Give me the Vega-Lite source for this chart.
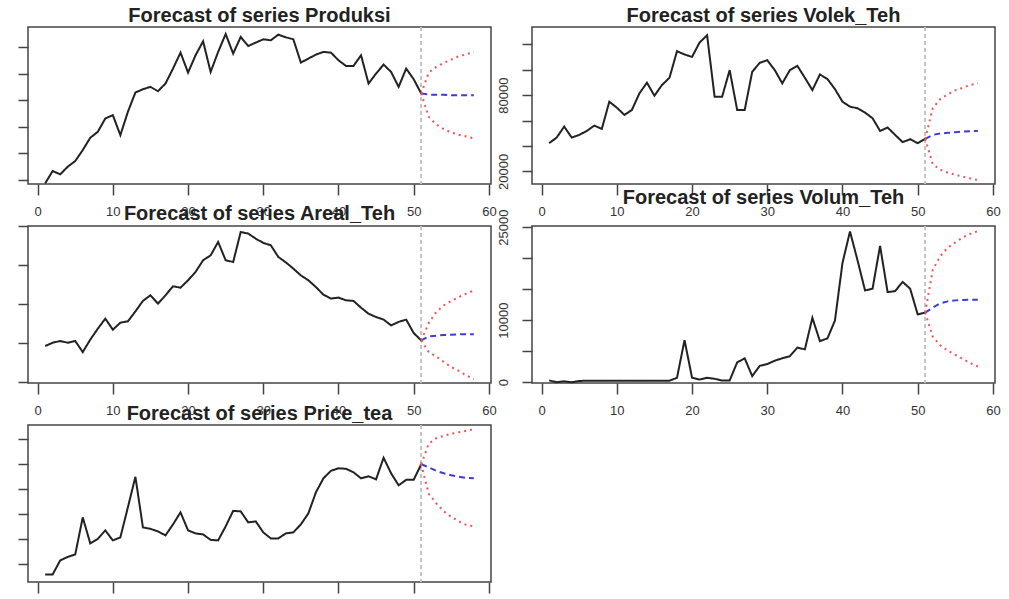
{
  "$schema": "https://vega.github.io/schema/vega-lite/v6.json",
  "background": "white",
  "padding": {"left": 16, "top": 4, "right": 0, "bottom": 0},
  "bounds": "flush",
  "columns": 2,
  "spacing": {"row": 42, "column": 41},
  "datasets": {
    "Produksi": [
      {"t":1,"value":57500,"type":"actual"},{"t":2,"value":66750,"type":"actual"},{"t":3,"value":64250,"type":"actual"},{"t":4,"value":70000,"type":"actual"},{"t":5,"value":74250,"type":"actual"},{"t":6,"value":82500,"type":"actual"},{"t":7,"value":91750,"type":"actual"},{"t":8,"value":96250,"type":"actual"},{"t":9,"value":106250,"type":"actual"},{"t":10,"value":108750,"type":"actual"},
      {"t":11,"value":93750,"type":"actual"},{"t":12,"value":111250,"type":"actual"},{"t":13,"value":125750,"type":"actual"},{"t":14,"value":128250,"type":"actual"},{"t":15,"value":130000,"type":"actual"},{"t":16,"value":126750,"type":"actual"},{"t":17,"value":132500,"type":"actual"},{"t":18,"value":143750,"type":"actual"},{"t":19,"value":155750,"type":"actual"},{"t":20,"value":140750,"type":"actual"},
      {"t":21,"value":153750,"type":"actual"},{"t":22,"value":164250,"type":"actual"},{"t":23,"value":141250,"type":"actual"},{"t":24,"value":156250,"type":"actual"},{"t":25,"value":169750,"type":"actual"},{"t":26,"value":155000,"type":"actual"},{"t":27,"value":167500,"type":"actual"},{"t":28,"value":160750,"type":"actual"},{"t":29,"value":163250,"type":"actual"},{"t":30,"value":165750,"type":"actual"},
      {"t":31,"value":165000,"type":"actual"},{"t":32,"value":169250,"type":"actual"},{"t":33,"value":167250,"type":"actual"},{"t":34,"value":165750,"type":"actual"},{"t":35,"value":148250,"type":"actual"},{"t":36,"value":151250,"type":"actual"},{"t":37,"value":154250,"type":"actual"},{"t":38,"value":156250,"type":"actual"},{"t":39,"value":155750,"type":"actual"},{"t":40,"value":150000,"type":"actual"},
      {"t":41,"value":145750,"type":"actual"},{"t":42,"value":145750,"type":"actual"},{"t":43,"value":153750,"type":"actual"},{"t":44,"value":132500,"type":"actual"},{"t":45,"value":140000,"type":"actual"},{"t":46,"value":146750,"type":"actual"},{"t":47,"value":141250,"type":"actual"},{"t":48,"value":130000,"type":"actual"},{"t":49,"value":143750,"type":"actual"},{"t":50,"value":135750,"type":"actual"},{"t":51,"value":125000,"type":"actual"},
      {"t":51,"value":125000,"type":"forecast"},{"t":52,"value":124250,"type":"forecast"},{"t":53,"value":124000,"type":"forecast"},{"t":54,"value":124000,"type":"forecast"},{"t":55,"value":123750,"type":"forecast"},{"t":56,"value":123750,"type":"forecast"},{"t":57,"value":123750,"type":"forecast"},{"t":58,"value":123750,"type":"forecast"},
      {"t":51,"value":125000,"type":"upper"},{"t":52,"value":140750,"type":"upper"},{"t":53,"value":145000,"type":"upper"},{"t":54,"value":148000,"type":"upper"},{"t":55,"value":150500,"type":"upper"},{"t":56,"value":153000,"type":"upper"},{"t":57,"value":154500,"type":"upper"},{"t":58,"value":156250,"type":"upper"},
      {"t":51,"value":125000,"type":"lower"},{"t":52,"value":107500,"type":"lower"},{"t":53,"value":101750,"type":"lower"},{"t":54,"value":98250,"type":"lower"},{"t":55,"value":95750,"type":"lower"},{"t":56,"value":94000,"type":"lower"},{"t":57,"value":92750,"type":"lower"},{"t":58,"value":91250,"type":"lower"}
    ],
    "Volek_Teh": [
      {"t":1,"value":42200,"type":"actual"},{"t":2,"value":46600,"type":"actual"},{"t":3,"value":55200,"type":"actual"},{"t":4,"value":46600,"type":"actual"},{"t":5,"value":48700,"type":"actual"},{"t":6,"value":51800,"type":"actual"},{"t":7,"value":56000,"type":"actual"},{"t":8,"value":53400,"type":"actual"},{"t":9,"value":74800,"type":"actual"},{"t":10,"value":70100,"type":"actual"},
      {"t":11,"value":64400,"type":"actual"},{"t":12,"value":68300,"type":"actual"},{"t":13,"value":81300,"type":"actual"},{"t":14,"value":89700,"type":"actual"},{"t":15,"value":79500,"type":"actual"},{"t":16,"value":87900,"type":"actual"},{"t":17,"value":93600,"type":"actual"},{"t":18,"value":114500,"type":"actual"},{"t":19,"value":111900,"type":"actual"},{"t":20,"value":110000,"type":"actual"},
      {"t":21,"value":121300,"type":"actual"},{"t":22,"value":127000,"type":"actual"},{"t":23,"value":78700,"type":"actual"},{"t":24,"value":78700,"type":"actual"},{"t":25,"value":99600,"type":"actual"},{"t":26,"value":68300,"type":"actual"},{"t":27,"value":68300,"type":"actual"},{"t":28,"value":98300,"type":"actual"},{"t":29,"value":105300,"type":"actual"},{"t":30,"value":107400,"type":"actual"},
      {"t":31,"value":99600,"type":"actual"},{"t":32,"value":89200,"type":"actual"},{"t":33,"value":99600,"type":"actual"},{"t":34,"value":103000,"type":"actual"},{"t":35,"value":93600,"type":"actual"},{"t":36,"value":83900,"type":"actual"},{"t":37,"value":96200,"type":"actual"},{"t":38,"value":92600,"type":"actual"},{"t":39,"value":84700,"type":"actual"},{"t":40,"value":74800,"type":"actual"},
      {"t":41,"value":70900,"type":"actual"},{"t":42,"value":69600,"type":"actual"},{"t":43,"value":66200,"type":"actual"},{"t":44,"value":61800,"type":"actual"},{"t":45,"value":51800,"type":"actual"},{"t":46,"value":54500,"type":"actual"},{"t":47,"value":48700,"type":"actual"},{"t":48,"value":43000,"type":"actual"},{"t":49,"value":45300,"type":"actual"},{"t":50,"value":42200,"type":"actual"},{"t":51,"value":45600,"type":"actual"},
      {"t":51,"value":45600,"type":"forecast"},{"t":52,"value":48700,"type":"forecast"},{"t":53,"value":49800,"type":"forecast"},{"t":54,"value":50300,"type":"forecast"},{"t":55,"value":50800,"type":"forecast"},{"t":56,"value":51300,"type":"forecast"},{"t":57,"value":51600,"type":"forecast"},{"t":58,"value":51800,"type":"forecast"},
      {"t":51,"value":45600,"type":"upper"},{"t":52,"value":69600,"type":"upper"},{"t":53,"value":76900,"type":"upper"},{"t":54,"value":80600,"type":"upper"},{"t":55,"value":83700,"type":"upper"},{"t":56,"value":85800,"type":"upper"},{"t":57,"value":87900,"type":"upper"},{"t":58,"value":89400,"type":"upper"},
      {"t":51,"value":45600,"type":"lower"},{"t":52,"value":25700,"type":"lower"},{"t":53,"value":21300,"type":"lower"},{"t":54,"value":19000,"type":"lower"},{"t":55,"value":17400,"type":"lower"},{"t":56,"value":15800,"type":"lower"},{"t":57,"value":14500,"type":"lower"},{"t":58,"value":13200,"type":"lower"}
    ],
    "Areal_Teh": [
      {"t":1,"value":98500,"type":"actual"},{"t":2,"value":100200,"type":"actual"},{"t":3,"value":101100,"type":"actual"},{"t":4,"value":100200,"type":"actual"},{"t":5,"value":101100,"type":"actual"},{"t":6,"value":95400,"type":"actual"},{"t":7,"value":101800,"type":"actual"},{"t":8,"value":107400,"type":"actual"},{"t":9,"value":112600,"type":"actual"},{"t":10,"value":106900,"type":"actual"},
      {"t":11,"value":110500,"type":"actual"},{"t":12,"value":111200,"type":"actual"},{"t":13,"value":116300,"type":"actual"},{"t":14,"value":121700,"type":"actual"},{"t":15,"value":124600,"type":"actual"},{"t":16,"value":120300,"type":"actual"},{"t":17,"value":124600,"type":"actual"},{"t":18,"value":129200,"type":"actual"},{"t":19,"value":128500,"type":"actual"},{"t":20,"value":132300,"type":"actual"},
      {"t":21,"value":136600,"type":"actual"},{"t":22,"value":142600,"type":"actual"},{"t":23,"value":145100,"type":"actual"},{"t":24,"value":152000,"type":"actual"},{"t":25,"value":142600,"type":"actual"},{"t":26,"value":141700,"type":"actual"},{"t":27,"value":157100,"type":"actual"},{"t":28,"value":156300,"type":"actual"},{"t":29,"value":153700,"type":"actual"},{"t":30,"value":151500,"type":"actual"},
      {"t":31,"value":150300,"type":"actual"},{"t":32,"value":144300,"type":"actual"},{"t":33,"value":141500,"type":"actual"},{"t":34,"value":138300,"type":"actual"},{"t":35,"value":134800,"type":"actual"},{"t":36,"value":132300,"type":"actual"},{"t":37,"value":128800,"type":"actual"},{"t":38,"value":124900,"type":"actual"},{"t":39,"value":122900,"type":"actual"},{"t":40,"value":123400,"type":"actual"},
      {"t":41,"value":122000,"type":"actual"},{"t":42,"value":121700,"type":"actual"},{"t":43,"value":118200,"type":"actual"},{"t":44,"value":115100,"type":"actual"},{"t":45,"value":113400,"type":"actual"},{"t":46,"value":112100,"type":"actual"},{"t":47,"value":109100,"type":"actual"},{"t":48,"value":110900,"type":"actual"},{"t":49,"value":112100,"type":"actual"},{"t":50,"value":105200,"type":"actual"},{"t":51,"value":101400,"type":"actual"},
      {"t":51,"value":101400,"type":"forecast"},{"t":52,"value":103500,"type":"forecast"},{"t":53,"value":103800,"type":"forecast"},{"t":54,"value":104200,"type":"forecast"},{"t":55,"value":104300,"type":"forecast"},{"t":56,"value":104500,"type":"forecast"},{"t":57,"value":104500,"type":"forecast"},{"t":58,"value":104500,"type":"forecast"},
      {"t":51,"value":101400,"type":"upper"},{"t":52,"value":110300,"type":"upper"},{"t":53,"value":116000,"type":"upper"},{"t":54,"value":119400,"type":"upper"},{"t":55,"value":121700,"type":"upper"},{"t":56,"value":123700,"type":"upper"},{"t":57,"value":125400,"type":"upper"},{"t":58,"value":127100,"type":"upper"},
      {"t":51,"value":101400,"type":"lower"},{"t":52,"value":95400,"type":"lower"},{"t":53,"value":93200,"type":"lower"},{"t":54,"value":90300,"type":"lower"},{"t":55,"value":87700,"type":"lower"},{"t":56,"value":85700,"type":"lower"},{"t":57,"value":83400,"type":"lower"},{"t":58,"value":81500,"type":"lower"}
    ],
    "Volum_Teh": [
      {"t":1,"value":300,"type":"actual"},{"t":2,"value":0,"type":"actual"},{"t":3,"value":150,"type":"actual"},{"t":4,"value":0,"type":"actual"},{"t":5,"value":200,"type":"actual"},{"t":6,"value":250,"type":"actual"},{"t":7,"value":250,"type":"actual"},{"t":8,"value":250,"type":"actual"},{"t":9,"value":250,"type":"actual"},{"t":10,"value":250,"type":"actual"},
      {"t":11,"value":250,"type":"actual"},{"t":12,"value":250,"type":"actual"},{"t":13,"value":250,"type":"actual"},{"t":14,"value":250,"type":"actual"},{"t":15,"value":250,"type":"actual"},{"t":16,"value":250,"type":"actual"},{"t":17,"value":250,"type":"actual"},{"t":18,"value":720,"type":"actual"},{"t":19,"value":6790,"type":"actual"},{"t":20,"value":720,"type":"actual"},
      {"t":21,"value":440,"type":"actual"},{"t":22,"value":720,"type":"actual"},{"t":23,"value":550,"type":"actual"},{"t":24,"value":280,"type":"actual"},{"t":25,"value":280,"type":"actual"},{"t":26,"value":3200,"type":"actual"},{"t":27,"value":3860,"type":"actual"},{"t":28,"value":990,"type":"actual"},{"t":29,"value":2650,"type":"actual"},{"t":30,"value":2930,"type":"actual"},
      {"t":31,"value":3480,"type":"actual"},{"t":32,"value":3860,"type":"actual"},{"t":33,"value":4200,"type":"actual"},{"t":34,"value":5580,"type":"actual"},{"t":35,"value":5300,"type":"actual"},{"t":36,"value":10380,"type":"actual"},{"t":37,"value":6620,"type":"actual"},{"t":38,"value":7070,"type":"actual"},{"t":39,"value":9940,"type":"actual"},{"t":40,"value":19210,"type":"actual"},
      {"t":41,"value":24290,"type":"actual"},{"t":42,"value":19650,"type":"actual"},{"t":43,"value":14790,"type":"actual"},{"t":44,"value":15070,"type":"actual"},{"t":45,"value":21970,"type":"actual"},{"t":46,"value":14520,"type":"actual"},{"t":47,"value":14680,"type":"actual"},{"t":48,"value":16170,"type":"actual"},{"t":49,"value":15070,"type":"actual"},{"t":50,"value":10930,"type":"actual"},{"t":51,"value":11210,"type":"actual"},
      {"t":51,"value":11210,"type":"forecast"},{"t":52,"value":12030,"type":"forecast"},{"t":53,"value":12700,"type":"forecast"},{"t":54,"value":13030,"type":"forecast"},{"t":55,"value":13190,"type":"forecast"},{"t":56,"value":13250,"type":"forecast"},{"t":57,"value":13300,"type":"forecast"},{"t":58,"value":13300,"type":"forecast"},
      {"t":51,"value":11210,"type":"upper"},{"t":52,"value":18100,"type":"upper"},{"t":53,"value":20310,"type":"upper"},{"t":54,"value":21690,"type":"upper"},{"t":55,"value":22520,"type":"upper"},{"t":56,"value":23350,"type":"upper"},{"t":57,"value":23900,"type":"upper"},{"t":58,"value":24340,"type":"upper"},
      {"t":51,"value":11210,"type":"lower"},{"t":52,"value":7340,"type":"lower"},{"t":53,"value":5960,"type":"lower"},{"t":54,"value":5080,"type":"lower"},{"t":55,"value":4420,"type":"lower"},{"t":56,"value":3750,"type":"lower"},{"t":57,"value":3090,"type":"lower"},{"t":58,"value":2540,"type":"lower"}
    ],
    "Price_tea": [
      {"t":1,"value":0.80,"type":"actual"},{"t":2,"value":0.80,"type":"actual"},{"t":3,"value":1.08,"type":"actual"},{"t":4,"value":1.15,"type":"actual"},{"t":5,"value":1.20,"type":"actual"},{"t":6,"value":1.94,"type":"actual"},{"t":7,"value":1.42,"type":"actual"},{"t":8,"value":1.51,"type":"actual"},{"t":9,"value":1.68,"type":"actual"},{"t":10,"value":1.48,"type":"actual"},
      {"t":11,"value":1.54,"type":"actual"},{"t":12,"value":2.14,"type":"actual"},{"t":13,"value":2.75,"type":"actual"},{"t":14,"value":1.74,"type":"actual"},{"t":15,"value":1.71,"type":"actual"},{"t":16,"value":1.66,"type":"actual"},{"t":17,"value":1.58,"type":"actual"},{"t":18,"value":1.80,"type":"actual"},{"t":19,"value":2.04,"type":"actual"},{"t":20,"value":1.68,"type":"actual"},
      {"t":21,"value":1.62,"type":"actual"},{"t":22,"value":1.60,"type":"actual"},{"t":23,"value":1.49,"type":"actual"},{"t":24,"value":1.48,"type":"actual"},{"t":25,"value":1.76,"type":"actual"},{"t":26,"value":2.07,"type":"actual"},{"t":27,"value":2.06,"type":"actual"},{"t":28,"value":1.84,"type":"actual"},{"t":29,"value":1.86,"type":"actual"},{"t":30,"value":1.64,"type":"actual"},
      {"t":31,"value":1.52,"type":"actual"},{"t":32,"value":1.52,"type":"actual"},{"t":33,"value":1.62,"type":"actual"},{"t":34,"value":1.64,"type":"actual"},{"t":35,"value":1.80,"type":"actual"},{"t":36,"value":2.02,"type":"actual"},{"t":37,"value":2.44,"type":"actual"},{"t":38,"value":2.72,"type":"actual"},{"t":39,"value":2.87,"type":"actual"},{"t":40,"value":2.92,"type":"actual"},
      {"t":41,"value":2.91,"type":"actual"},{"t":42,"value":2.84,"type":"actual"},{"t":43,"value":2.72,"type":"actual"},{"t":44,"value":2.76,"type":"actual"},{"t":45,"value":2.70,"type":"actual"},{"t":46,"value":3.13,"type":"actual"},{"t":47,"value":2.82,"type":"actual"},{"t":48,"value":2.58,"type":"actual"},{"t":49,"value":2.69,"type":"actual"},{"t":50,"value":2.69,"type":"actual"},{"t":51,"value":3.00,"type":"actual"},
      {"t":51,"value":3.00,"type":"forecast"},{"t":52,"value":2.94,"type":"forecast"},{"t":53,"value":2.87,"type":"forecast"},{"t":54,"value":2.82,"type":"forecast"},{"t":55,"value":2.78,"type":"forecast"},{"t":56,"value":2.75,"type":"forecast"},{"t":57,"value":2.73,"type":"forecast"},{"t":58,"value":2.72,"type":"forecast"},
      {"t":51,"value":3.00,"type":"upper"},{"t":52,"value":3.41,"type":"upper"},{"t":53,"value":3.52,"type":"upper"},{"t":54,"value":3.57,"type":"upper"},{"t":55,"value":3.61,"type":"upper"},{"t":56,"value":3.64,"type":"upper"},{"t":57,"value":3.67,"type":"upper"},{"t":58,"value":3.70,"type":"upper"},
      {"t":51,"value":3.00,"type":"lower"},{"t":52,"value":2.41,"type":"lower"},{"t":53,"value":2.22,"type":"lower"},{"t":54,"value":2.06,"type":"lower"},{"t":55,"value":1.95,"type":"lower"},{"t":56,"value":1.86,"type":"lower"},{"t":57,"value":1.79,"type":"lower"},{"t":58,"value":1.76,"type":"lower"}
    ]
  },
  "concat": [
    {
      "width": 463, "height": 157,
      "title": {"text": "Forecast of series Produksi"},
      "data": {"name": "Produksi"},
      "layer": [
        {"mark": {"type": "rule", "color": "#c4c4c4", "strokeDash": [4, 3], "strokeWidth": 1}, "encoding": {"x": {"datum": 51, "type": "quantitative"}}},
        {"mark": {"type": "line", "strokeWidth": 2},
         "encoding": {
           "x": {"field": "t", "type": "quantitative", "title": null, "scale": {"domain": [-1.28, 60.28], "nice": false, "zero": false}, "axis": {"values": [0, 10, 20, 30, 40, 50, 60]}},
           "y": {"field": "value", "type": "quantitative", "title": null, "scale": {"domain": [57000, 175000], "nice": false, "zero": false}, "axis": {"values": [60000, 80000, 100000, 120000, 140000, 160000], "labels": false}},
           "color": {"field": "type", "type": "nominal", "legend": null, "scale": {"domain": ["actual", "forecast", "lower", "upper"], "range": ["#222222", "#3c3cdc", "#ee5555", "#ee5555"]}},
           "strokeDash": {"field": "type", "type": "nominal", "legend": null, "scale": {"domain": ["actual", "forecast", "lower", "upper"], "range": [[1, 0], [6, 4], [2, 4], [2, 4]]}}
         }}
      ]
    },
    {
      "width": 463, "height": 157,
      "title": {"text": "Forecast of series Volek_Teh"},
      "data": {"name": "Volek_Teh"},
      "layer": [
        {"mark": {"type": "rule", "color": "#c4c4c4", "strokeDash": [4, 3], "strokeWidth": 1}, "encoding": {"x": {"datum": 51, "type": "quantitative"}}},
        {"mark": {"type": "line", "strokeWidth": 2},
         "encoding": {
           "x": {"field": "t", "type": "quantitative", "title": null, "scale": {"domain": [-1.28, 60.28], "nice": false, "zero": false}, "axis": {"values": [0, 10, 20, 30, 40, 50, 60]}},
           "y": {"field": "value", "type": "quantitative", "title": null, "scale": {"domain": [10100, 133500], "nice": false, "zero": false}, "axis": {"values": [20000, 40000, 60000, 80000, 100000, 120000], "labelExpr": "datum.value == 20000 || datum.value == 80000 ? format(datum.value, 'd') : ''", "labelAngle": 270, "labelAlign": "center", "labelBaseline": "bottom", "labelPadding": 12, "labelOverlap": false}},
           "color": {"field": "type", "type": "nominal", "legend": null, "scale": {"domain": ["actual", "forecast", "lower", "upper"], "range": ["#222222", "#3c3cdc", "#ee5555", "#ee5555"]}},
           "strokeDash": {"field": "type", "type": "nominal", "legend": null, "scale": {"domain": ["actual", "forecast", "lower", "upper"], "range": [[1, 0], [6, 4], [2, 4], [2, 4]]}}
         }}
      ]
    },
    {
      "width": 463, "height": 157,
      "title": {"text": "Forecast of series Areal_Teh"},
      "data": {"name": "Areal_Teh"},
      "layer": [
        {"mark": {"type": "rule", "color": "#c4c4c4", "strokeDash": [4, 3], "strokeWidth": 1}, "encoding": {"x": {"datum": 51, "type": "quantitative"}}},
        {"mark": {"type": "line", "strokeWidth": 2},
         "encoding": {
           "x": {"field": "t", "type": "quantitative", "title": null, "scale": {"domain": [-1.28, 60.28], "nice": false, "zero": false}, "axis": {"values": [0, 10, 20, 30, 40, 50, 60]}},
           "y": {"field": "value", "type": "quantitative", "title": null, "scale": {"domain": [79500, 160200], "nice": false, "zero": false}, "axis": {"values": [80000, 100000, 120000, 140000, 160000], "labels": false}},
           "color": {"field": "type", "type": "nominal", "legend": null, "scale": {"domain": ["actual", "forecast", "lower", "upper"], "range": ["#222222", "#3c3cdc", "#ee5555", "#ee5555"]}},
           "strokeDash": {"field": "type", "type": "nominal", "legend": null, "scale": {"domain": ["actual", "forecast", "lower", "upper"], "range": [[1, 0], [6, 4], [2, 4], [2, 4]]}}
         }}
      ]
    },
    {
      "width": 463, "height": 157,
      "title": {"text": "Forecast of series Volum_Teh"},
      "data": {"name": "Volum_Teh"},
      "layer": [
        {"mark": {"type": "rule", "color": "#c4c4c4", "strokeDash": [4, 3], "strokeWidth": 1}, "encoding": {"x": {"datum": 51, "type": "quantitative"}}},
        {"mark": {"type": "line", "strokeWidth": 2},
         "encoding": {
           "x": {"field": "t", "type": "quantitative", "title": null, "scale": {"domain": [-1.28, 60.28], "nice": false, "zero": false}, "axis": {"values": [0, 10, 20, 30, 40, 50, 60]}},
           "y": {"field": "value", "type": "quantitative", "title": null, "scale": {"domain": [-120, 25170], "nice": false, "zero": false}, "axis": {"values": [0, 5000, 10000, 15000, 20000, 25000], "labelExpr": "datum.value == 0 || datum.value == 10000 || datum.value == 25000 ? format(datum.value, 'd') : ''", "labelAngle": 270, "labelAlign": "center", "labelBaseline": "bottom", "labelPadding": 12, "labelOverlap": false}},
           "color": {"field": "type", "type": "nominal", "legend": null, "scale": {"domain": ["actual", "forecast", "lower", "upper"], "range": ["#222222", "#3c3cdc", "#ee5555", "#ee5555"]}},
           "strokeDash": {"field": "type", "type": "nominal", "legend": null, "scale": {"domain": ["actual", "forecast", "lower", "upper"], "range": [[1, 0], [6, 4], [2, 4], [2, 4]]}}
         }}
      ]
    },
    {
      "width": 463, "height": 157,
      "title": {"text": "Forecast of series Price_tea"},
      "data": {"name": "Price_tea"},
      "layer": [
        {"mark": {"type": "rule", "color": "#c4c4c4", "strokeDash": [4, 3], "strokeWidth": 1}, "encoding": {"x": {"datum": 51, "type": "quantitative"}}},
        {"mark": {"type": "line", "strokeWidth": 2},
         "encoding": {
           "x": {"field": "t", "type": "quantitative", "title": null, "scale": {"domain": [-1.28, 60.28], "nice": false, "zero": false}, "axis": {"values": [0, 10, 20, 30, 40, 50, 60]}},
           "y": {"field": "value", "type": "quantitative", "title": null, "scale": {"domain": [0.649, 3.785], "nice": false, "zero": false}, "axis": {"values": [1, 1.5, 2, 2.5, 3, 3.5], "labels": false}},
           "color": {"field": "type", "type": "nominal", "legend": null, "scale": {"domain": ["actual", "forecast", "lower", "upper"], "range": ["#222222", "#3c3cdc", "#ee5555", "#ee5555"]}},
           "strokeDash": {"field": "type", "type": "nominal", "legend": null, "scale": {"domain": ["actual", "forecast", "lower", "upper"], "range": [[1, 0], [6, 4], [2, 4], [2, 4]]}}
         }}
      ]
    }
  ],
  "config": {
    "font": "Liberation Sans",
    "view": {"stroke": "#444444", "strokeWidth": 1.5},
    "axis": {"domain": false, "grid": false, "tickColor": "#444444", "tickWidth": 1.5, "tickSize": 10, "labelFontSize": 13, "labelColor": "#333333", "labelFont": "Liberation Sans"},
    "axisX": {"tickSize": 11, "labelPadding": 10},
    "title": {"fontSize": 20, "fontWeight": "bold", "color": "#222222", "font": "Liberation Sans", "anchor": "middle", "frame": "group", "offset": 1, "baseline": "alphabetic"}
  }
}
